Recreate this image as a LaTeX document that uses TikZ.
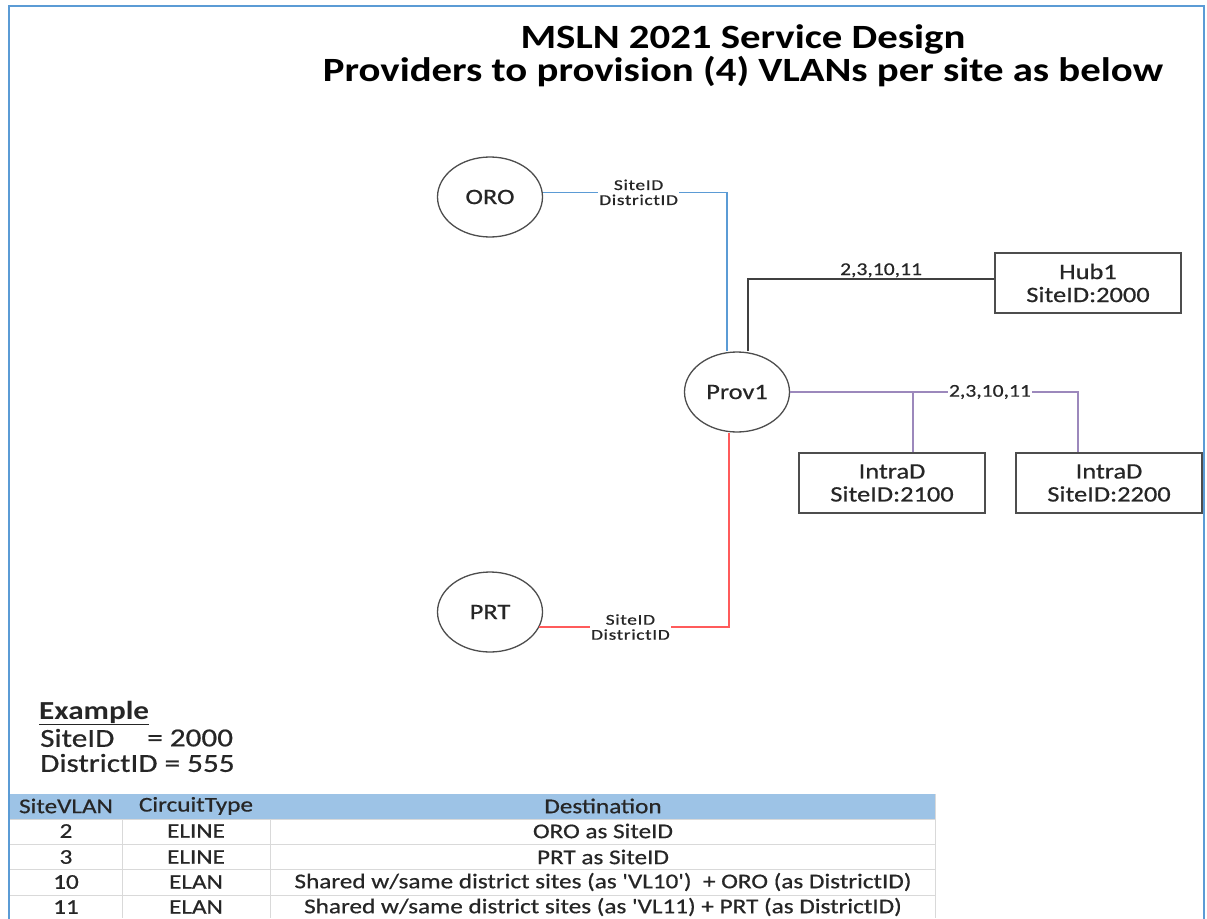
\documentclass[tikz,border=0pt]{standalone}
\usepackage{fontspec}
\setmainfont{Carlito}[FakeStretch=1.2]
\newfontfamily\heavy{Carlito}[FakeStretch=1.2, FakeBold=0.6]
\newfontfamily\widelbl{Carlito}[FakeStretch=1.3, FakeBold=0.6, LetterSpace=4]
\usetikzlibrary{shapes.geometric}
\definecolor{frameblue}{HTML}{5B9BD5}
\definecolor{lineblue}{HTML}{5B9BD5}
\definecolor{linered}{HTML}{FF5B5B}
\definecolor{linepurple}{HTML}{9C88BC}
\definecolor{linedark}{HTML}{404040}
\definecolor{shapegray}{HTML}{4D4D4D}
\definecolor{txt}{HTML}{262626}
\definecolor{headfill}{HTML}{9DC3E6}
\definecolor{gridgray}{HTML}{D9D9D9}
\tikzset{
  site/.style={ellipse, draw=shapegray, line width=1.3pt, minimum width=105pt, minimum height=80pt, inner sep=0pt, font=\heavy\fontsize{22}{23}\selectfont, text=txt},
  sitebox/.style={rectangle, draw=shapegray, line width=1.3pt, minimum width=186pt, minimum height=60pt, inner sep=0pt, align=center, font=\heavy\fontsize{22}{23}\selectfont, text=txt},
  lbl/.style={fill=white, inner sep=1pt, align=center, font=\widelbl\fontsize{15}{15}\selectfont, text=txt},
  numlbl/.style={font=\heavy\fontsize{18}{18}\selectfont, text=txt},
  conn/.style={line width=1.3pt},
  cell/.style={font=\heavy\fontsize{21}{22}\selectfont, text=txt, inner sep=0pt},
  extext/.style={font=\heavy\fontsize{26}{28}\selectfont, text=txt, inner sep=0pt, anchor=west}
}
\begin{document}
\begin{tikzpicture}[x=1pt,y=-1pt]
\useasboundingbox (0,0) rectangle (1207,918);
% frame
\draw[frameblue, line width=2pt] (9,930) -- (9,6) -- (1204,6) -- (1204,930);
% title
\node[font=\fontsize{34}{33}\selectfont\bfseries, align=center, text=black] (title) at (743,56) {MSLN 2021 Service Design\\Providers to provision (4) VLANs per site as below};
% nodes
\node[site] (oro) at (490,197) {ORO};
\node[site] (prov1) at (737,392) {Prov1};
\node[site] (prt) at (490,612) {PRT};
\node[sitebox] (hub1) at (1088,283) {Hub1\\SiteID:2000};
\node[sitebox] (intra1) at (892,483) {IntraD\\SiteID:2100};
\node[sitebox] (intra2) at (1109,483) {IntraD\\SiteID:2200};
% connectors
\draw[conn, lineblue] (oro.5) -| ([xshift=-10pt]prov1.north) node[lbl, pos=0.26] {SiteID\\DistrictID};
\draw[conn, linedark] ([xshift=11pt]prov1.north) |- ([yshift=4pt]hub1.west) node[numlbl, pos=0.77, above, inner sep=1pt] {2,3,10,11};
\draw[conn, linepurple] (prov1.east) -| ([xshift=-31pt]intra2.north) node[lbl, numlbl, pos=0.347] {2,3,10,11};
\draw[conn, linepurple] ([xshift=21pt]intra1.north) |- (prov1.east);
\draw[conn, linered] ([xshift=-8pt]prov1.south) |- (prt.-17) node[lbl, pos=0.76] {SiteID\\DistrictID};
% example
\node[extext, font=\fontsize{26}{28}\selectfont\bfseries] (exhead) at (39,713) {\underline{Example}};
\node[extext] (exsite) at (40,738) {SiteID};
\node[extext] (exsiteval) at (147,738) {= 2000};
\node[extext] (exdist) at (40,763) {DistrictID = 555};
% table
\fill[headfill] (10,794) rectangle (935,819);
\draw[gridgray, line width=1pt] (10,819) -- (935,819) (10,844) -- (935,844) (10,869) -- (935,869) (10,895) -- (935,895);
\draw[gridgray, line width=1pt] (122,819) -- (122,918) (270,819) -- (270,918) (935,794) -- (935,918);
\node[cell] (h1) at (66,806) {SiteVLAN};
\node[cell] (h2) at (196,806) {CircuitType};
\node[cell] (h3) at (603,806) {Destination};
\node[cell] (r1a) at (66,831) {2};
\node[cell] (r1b) at (196,831) {ELINE};
\node[cell] (r1c) at (603,831) {ORO as SiteID};
\node[cell] (r2a) at (66,857) {3};
\node[cell] (r2b) at (196,857) {ELINE};
\node[cell] (r2c) at (603,857) {PRT as SiteID};
\node[cell] (r3a) at (66,882) {10};
\node[cell] (r3b) at (196,882) {ELAN};
\node[cell] (r3c) at (603,882) {Shared w/same district sites (as 'VL10')\ \ + ORO (as DistrictID)};
\node[cell] (r4a) at (66,907) {11};
\node[cell] (r4b) at (196,907) {ELAN};
\node[cell] (r4c) at (603,907) {Shared w/same district sites (as 'VL11) + PRT (as DistrictID)};
\end{tikzpicture}
\end{document}
